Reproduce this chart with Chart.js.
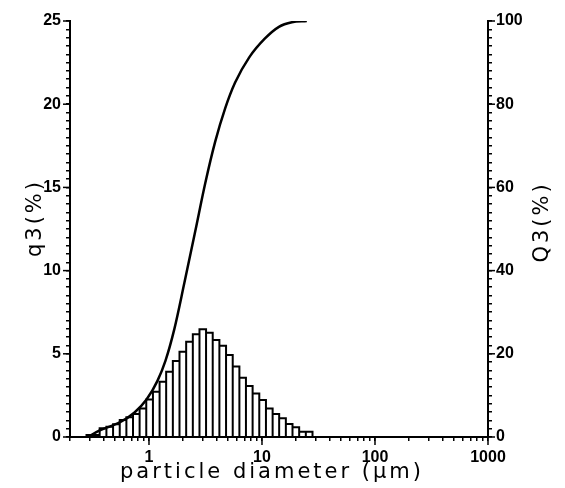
<!DOCTYPE html>
<html lang="en">
<head>
<meta charset="UTF-8">
<title>Particle size distribution</title>
<script src="https://cdn.jsdelivr.net/npm/chart.js"></script>
<style>
  html, body { margin: 0; padding: 0; background: #fff; }
</style>
</head>
<body>
<canvas id="psd" width="565" height="488"></canvas>
<script>
// histogram: bin edges (particle diameter, um) and q3 of each bin (%)
const binEdges = [0.28, 0.32, 0.366, 0.420, 0.481, 0.551, 0.631, 0.722, 0.826, 0.946,
  1.084, 1.241, 1.419, 1.626, 1.862, 2.133, 2.443, 2.798, 3.199, 3.664,
  4.198, 4.808, 5.508, 6.310, 7.211, 8.260, 9.462, 10.84, 12.42, 14.19,
  16.26, 18.62, 21.33, 24.43, 27.99];
const q3Values = [0.12, 0.12, 0.52, 0.62, 0.76, 1.02, 1.18, 1.38, 1.72, 2.26,
  2.72, 3.32, 3.92, 4.57, 5.13, 5.73, 6.17, 6.47, 6.27, 5.83,
  5.49, 4.93, 4.23, 3.56, 3.06, 2.62, 2.22, 1.72, 1.38, 1.12,
  0.78, 0.58, 0.32, 0.32];

// cumulative curve Q3 (%)
const cumDiameter = [0.287, 0.366, 0.55, 0.745, 0.951, 1.188, 1.398, 1.678, 2.055, 2.569,
  3.146, 3.854, 4.721, 5.783, 7.684, 10.63, 14.12, 18.38, 24.92];
const cumQ3 = [0, 1.6, 3.5, 5.9, 9.0, 13.5, 18.3, 26, 37, 49.5,
  61, 71, 79, 85.2, 91.2, 95.8, 98.6, 99.7, 100];

// axis ticks
const xTickValues = [0.2, 0.3, 0.4, 0.5, 0.6, 0.7, 0.8, 0.9,
  1, 2, 3, 4, 5, 6, 7, 8, 9,
  10, 20, 30, 40, 50, 60, 70, 80, 90,
  100, 200, 300, 400, 500, 600, 700, 800, 900, 1000];
const xLabels = [1, 10, 100, 1000];
const q3Labels = [0, 5, 10, 15, 20, 25];
const Q3Labels = [0, 20, 40, 60, 80, 100];

// 10 minor steps between labelled ticks
function withMinor(majors) {
  const out = [];
  for (let i = 0; i < majors.length - 1; i++) {
    const step = (majors[i + 1] - majors[i]) / 10;
    for (let k = 0; k < 10; k++) out.push(+(majors[i] + k * step).toFixed(3));
  }
  out.push(majors[majors.length - 1]);
  return out;
}

const histOutline = [];
for (let i = 0; i < q3Values.length; i++) {
  histOutline.push(
    {x: binEdges[i], y: 0},
    {x: binEdges[i], y: q3Values[i]},
    {x: binEdges[i + 1], y: q3Values[i]},
    {x: binEdges[i + 1], y: 0}
  );
}
const cumPoints = cumDiameter.map((d, i) => ({x: d, y: cumQ3[i]}));

const tickFont = {family: '"Liberation Sans", Arial, sans-serif', size: 16, weight: 'bold'};

const extras = {
  id: 'extras',
  afterDraw(chart) {
    const {ctx, chartArea, scales} = chart;
    ctx.save();
    ctx.strokeStyle = '#000';
    ctx.lineWidth = 1.5;
    const seg = (x1, y1, x2, y2) => { ctx.beginPath(); ctx.moveTo(x1, y1); ctx.lineTo(x2, y2); ctx.stroke(); };
    // longer marks at labelled ticks
    xLabels.forEach(v => { const px = scales.x.getPixelForValue(v); seg(px, chartArea.bottom, px, chartArea.bottom + 8); });
    q3Labels.forEach(v => { const py = scales.y.getPixelForValue(v); seg(chartArea.left - 7, py, chartArea.left, py); });
    Q3Labels.forEach(v => { const py = scales.y2.getPixelForValue(v); seg(chartArea.right, py, chartArea.right + 7, py); });

    // axis titles
    ctx.fillStyle = '#000';
    ctx.font = '21px "DejaVu Sans", sans-serif';
    ctx.letterSpacing = '3px';
    ctx.textAlign = 'center';
    ctx.textBaseline = 'middle';
    ctx.fillText('particle diameter (\u03bcm)', 272, 473);
    ctx.save();
    ctx.translate(36, 218);
    ctx.rotate(-Math.PI / 2);
    ctx.fillText('q3(%)', 0, 0);
    ctx.restore();
    ctx.save();
    ctx.translate(543, 222);
    ctx.rotate(-Math.PI / 2);
    ctx.fillText('Q3(%)', 0, 0);
    ctx.restore();
    ctx.restore();
  }
};

new Chart(document.getElementById('psd'), {
  type: 'scatter',
  data: {
    datasets: [
      {
        label: 'Q3',
        data: cumPoints,
        yAxisID: 'y2',
        showLine: true,
        borderColor: '#000',
        borderWidth: 2.5,
        pointRadius: 0,
        cubicInterpolationMode: 'monotone'
      },
      {
        label: 'q3',
        data: histOutline,
        yAxisID: 'y',
        showLine: true,
        borderColor: '#000',
        borderWidth: 2,
        pointRadius: 0,
        tension: 0
      }
    ]
  },
  options: {
    responsive: false,
    animation: false,
    layout: {padding: {top: 21, left: 0, right: 0, bottom: 0}},
    plugins: {legend: {display: false}, tooltip: {enabled: false}},
    scales: {
      x: {
        type: 'logarithmic',
        min: 0.2,
        max: 1000,
        afterBuildTicks: s => { s.ticks = xTickValues.map(v => ({value: v})); },
        afterFit: s => { s.height = 51; },
        ticks: {
          autoSkip: false, maxRotation: 0, padding: 7, color: '#000', font: tickFont,
          callback: v => xLabels.includes(v) ? String(v) : ''
        },
        grid: {drawOnChartArea: false, tickLength: 4, color: '#000', lineWidth: 1.5},
        border: {color: '#000', width: 2}
      },
      y: {
        position: 'left',
        min: 0,
        max: 25,
        afterBuildTicks: s => { s.ticks = withMinor(q3Labels).map(v => ({value: v})); },
        afterFit: s => { s.width = 70; },
        ticks: {
          autoSkip: false, padding: 5, color: '#000', font: tickFont,
          callback: v => q3Labels.includes(v) ? String(v) : ''
        },
        grid: {drawOnChartArea: false, tickLength: 4, color: '#000', lineWidth: 1.5},
        border: {color: '#000', width: 2}
      },
      y2: {
        position: 'right',
        min: 0,
        max: 100,
        afterBuildTicks: s => { s.ticks = withMinor(Q3Labels).map(v => ({value: v})); },
        afterFit: s => { s.width = 77; },
        ticks: {
          autoSkip: false, padding: 4, color: '#000', font: tickFont,
          callback: v => Q3Labels.includes(v) ? String(v) : ''
        },
        grid: {drawOnChartArea: false, tickLength: 4, color: '#000', lineWidth: 1.5},
        border: {color: '#000', width: 2}
      }
    }
  },
  plugins: [extras]
});
</script>
</body>
</html>
